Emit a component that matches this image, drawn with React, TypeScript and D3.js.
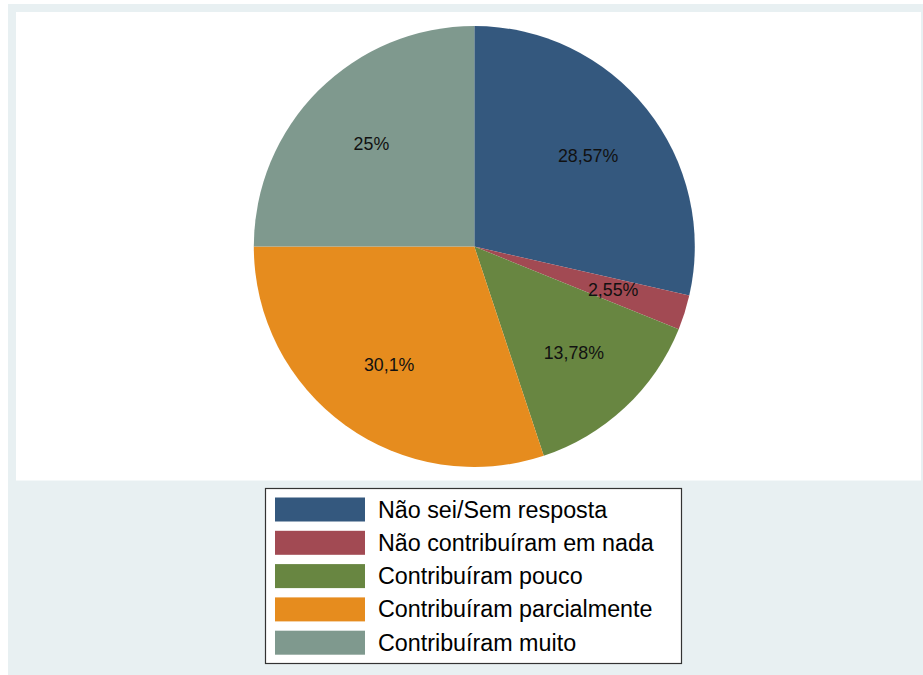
import React from "react";
import * as d3 from "d3";

const categories = [
  "Não sei/Sem resposta",
  "Não contribuíram em nada",
  "Contribuíram pouco",
  "Contribuíram parcialmente",
  "Contribuíram muito",
];
const values = [28.57, 2.55, 13.78, 30.1, 25];
const valueLabels = ["28,57%", "2,55%", "13,78%", "30,1%", "25%"];
const colors = ["#34587e", "#a24a53", "#688641", "#e68c1e", "#7f998e"];

const W = 923;
const H = 675;
const cx = 474.3;
const cy = 246.5;
const R = 220.5;

export default function App() {
  const pie = d3.pie<number>().sort(null).value((d) => d)(values);
  const arc = d3.arc<d3.PieArcDatum<number>>().innerRadius(0).outerRadius(R);
  const labelArc = d3
    .arc<d3.PieArcDatum<number>>()
    .innerRadius(R * 0.66)
    .outerRadius(R * 0.66);

  const legendY = d3
    .scaleBand<number>()
    .domain(d3.range(categories.length))
    .range([497.5, 497.5 + 33.3 * 5])
    .paddingInner(0);

  return (
    <svg
      width={W}
      height={H}
      style={{ position: "absolute", left: 0, top: 0, background: "#ffffff" }}
      fontFamily="'Liberation Sans', Arial, Helvetica, sans-serif"
    >
      <rect x={8} y={4} width={W - 8} height={H - 4} fill="#e8f0f2" />
      <rect x={16} y={12} width={W - 18} height={468.5} fill="#ffffff" />
      <g transform={`translate(${cx},${cy})`}>
        {pie.map((p, i) => (
          <path key={i} d={arc(p) || ""} fill={colors[i]} />
        ))}
        {pie.map((p, i) => {
          const [x, y] = labelArc.centroid(p);
          return (
            <text
              key={i}
              x={x}
              y={y}
              textAnchor="middle"
              dominantBaseline="central"
              fontSize={17.8}
              fill="#111"
            >
              {valueLabels[i]}
            </text>
          );
        })}
      </g>
      <rect
        x={265.5}
        y={488.5}
        width={416}
        height={175}
        fill="#ffffff"
        stroke="#333"
        strokeWidth={1.2}
      />
      {categories.map((c, i) => {
        const y0 = legendY(i) as number;
        return (
          <g key={i}>
            <rect x={275} y={y0} width={90} height={24} fill={colors[i]} />
            <text
              x={378}
              y={y0 + 12}
              dominantBaseline="central"
              fontSize={23.3}
              fill="#000"
            >
              {c}
            </text>
          </g>
        );
      })}
    </svg>
  );
}
